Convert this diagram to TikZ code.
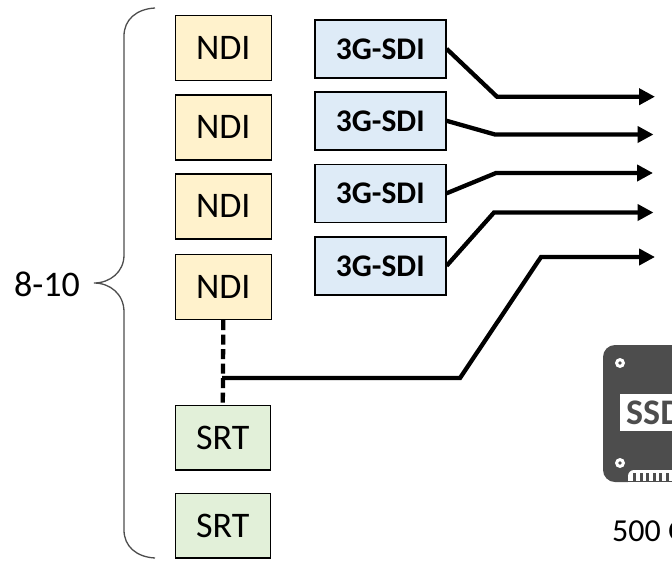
\documentclass[tikz,border=0pt]{standalone}
\usepackage{fontspec}
\setmainfont{Carlito}
\usetikzlibrary{arrows.meta}
\definecolor{ndifill}{HTML}{FFF2CC}
\definecolor{sdifill}{HTML}{DEEBF7}
\definecolor{srtfill}{HTML}{E2F0D9}
\definecolor{ssdgray}{HTML}{4D4D4D}
\tikzset{
  x=1pt,y=-1pt,
  boxbase/.style={draw=black,line width=1.6pt,anchor=north west,inner sep=0pt,font=\fontsize{36}{37}\selectfont},
  ndibox/.style={boxbase,fill=ndifill,minimum width=96pt,minimum height=65pt},
  srtbox/.style={boxbase,fill=srtfill,minimum width=95pt,minimum height=64.5pt},
  sdibox/.style={boxbase,fill=sdifill,minimum width=131pt,minimum height=58pt,font=\fontsize{31.5}{32}\selectfont\bfseries},
  link/.style={draw=black,line width=4.3pt,line join=miter},
  flow/.style={link,-{Triangle[length=16pt,width=16pt]}},
  plain/.style={inner sep=0pt,font=\fontsize{36}{37}\selectfont}
}
\begin{document}
\begin{tikzpicture}
\useasboundingbox (0,0) rectangle (672,563);
\clip (0,0) rectangle (672,563);
% boxes
\node[ndibox] (n1) at (174.5,14.5) {NDI};
\node[ndibox] (n2) at (174.5,94) {NDI};
\node[ndibox] (n3) at (174.5,173) {NDI};
\node[ndibox] (n4) at (174.5,253.5) {NDI};
\node[srtbox] (s1) at (174.5,404.5) {SRT};
\node[srtbox] (s2) at (174.5,492.5) {SRT};
\node[sdibox] (d1) at (314,19) {3G-SDI};
\node[sdibox] (d2) at (314,91) {3G-SDI};
\node[sdibox] (d3) at (314,163.5) {3G-SDI};
\node[sdibox] (d4) at (314,236) {3G-SDI};
% arrow ends
\coordinate (t1) at (655,96.7);
\coordinate (t2) at (653.5,134.5);
\coordinate (t3) at (653,173);
\coordinate (t4) at (653.5,212.5);
\coordinate (t5) at (655,257);
\coordinate (j) at (222,378);
% connectors
\draw[flow] (d1.east) -- (497,96.7) -- (t1);
\draw[flow] (d2.east) -- (495,134.5) -- (t2);
\draw[flow] (d3.east) -- (496,173) -- (t3);
\draw[flow] (d4.east) -- (494,212.5) -- (t4);
\draw[link,dash pattern=on 10pt off 4.5pt] (n4.south) -- (s1.north);
\draw[flow] (j) -- (460,378) -- (541,257) -- (t5);
% brace
\draw[draw=ssdgray,line width=1.3pt] (155,8) .. controls (136,9) and (124,20) .. (124,36)
  -- (124,255) .. controls (124,272) and (110,283) .. (94,283)
  .. controls (110,283) and (124,294) .. (124,312)
  -- (124,530) .. controls (124,546) and (136,557) .. (155,558);
\node[plain,anchor=base west] (lbl) at (14,296) {8-10};
% SSD
\fill[ssdgray,rounded corners=12pt] (603,345) rectangle (700,482);
\fill[white] (620,394) rectangle (690,431);
\node[anchor=base west,inner sep=0pt,text=ssdgray,font=\fontsize{36}{37}\selectfont\bfseries] (ssd) at (626,424) {SSD};
\fill[white] (620,363) circle[radius=5pt];
\fill[ssdgray] (620,363) circle[radius=1.8pt];
\fill[white] (620,463) circle[radius=5pt];
\fill[ssdgray] (620,463) circle[radius=1.8pt];
\fill[white,rounded corners=6pt] (628,490) rectangle (700,470);
\foreach \tx in {633,639.5,646,652.5,659,665.5}{\fill[ssdgray] (\tx,473) rectangle (\tx+3.2,482);}
\draw[ssdgray,line width=1pt] (628,481.5) -- (672,481.5);
\node[plain,anchor=base west,font=\fontsize{32}{33}\selectfont] (cap) at (612,541) {500 G};
\end{tikzpicture}
\end{document}
